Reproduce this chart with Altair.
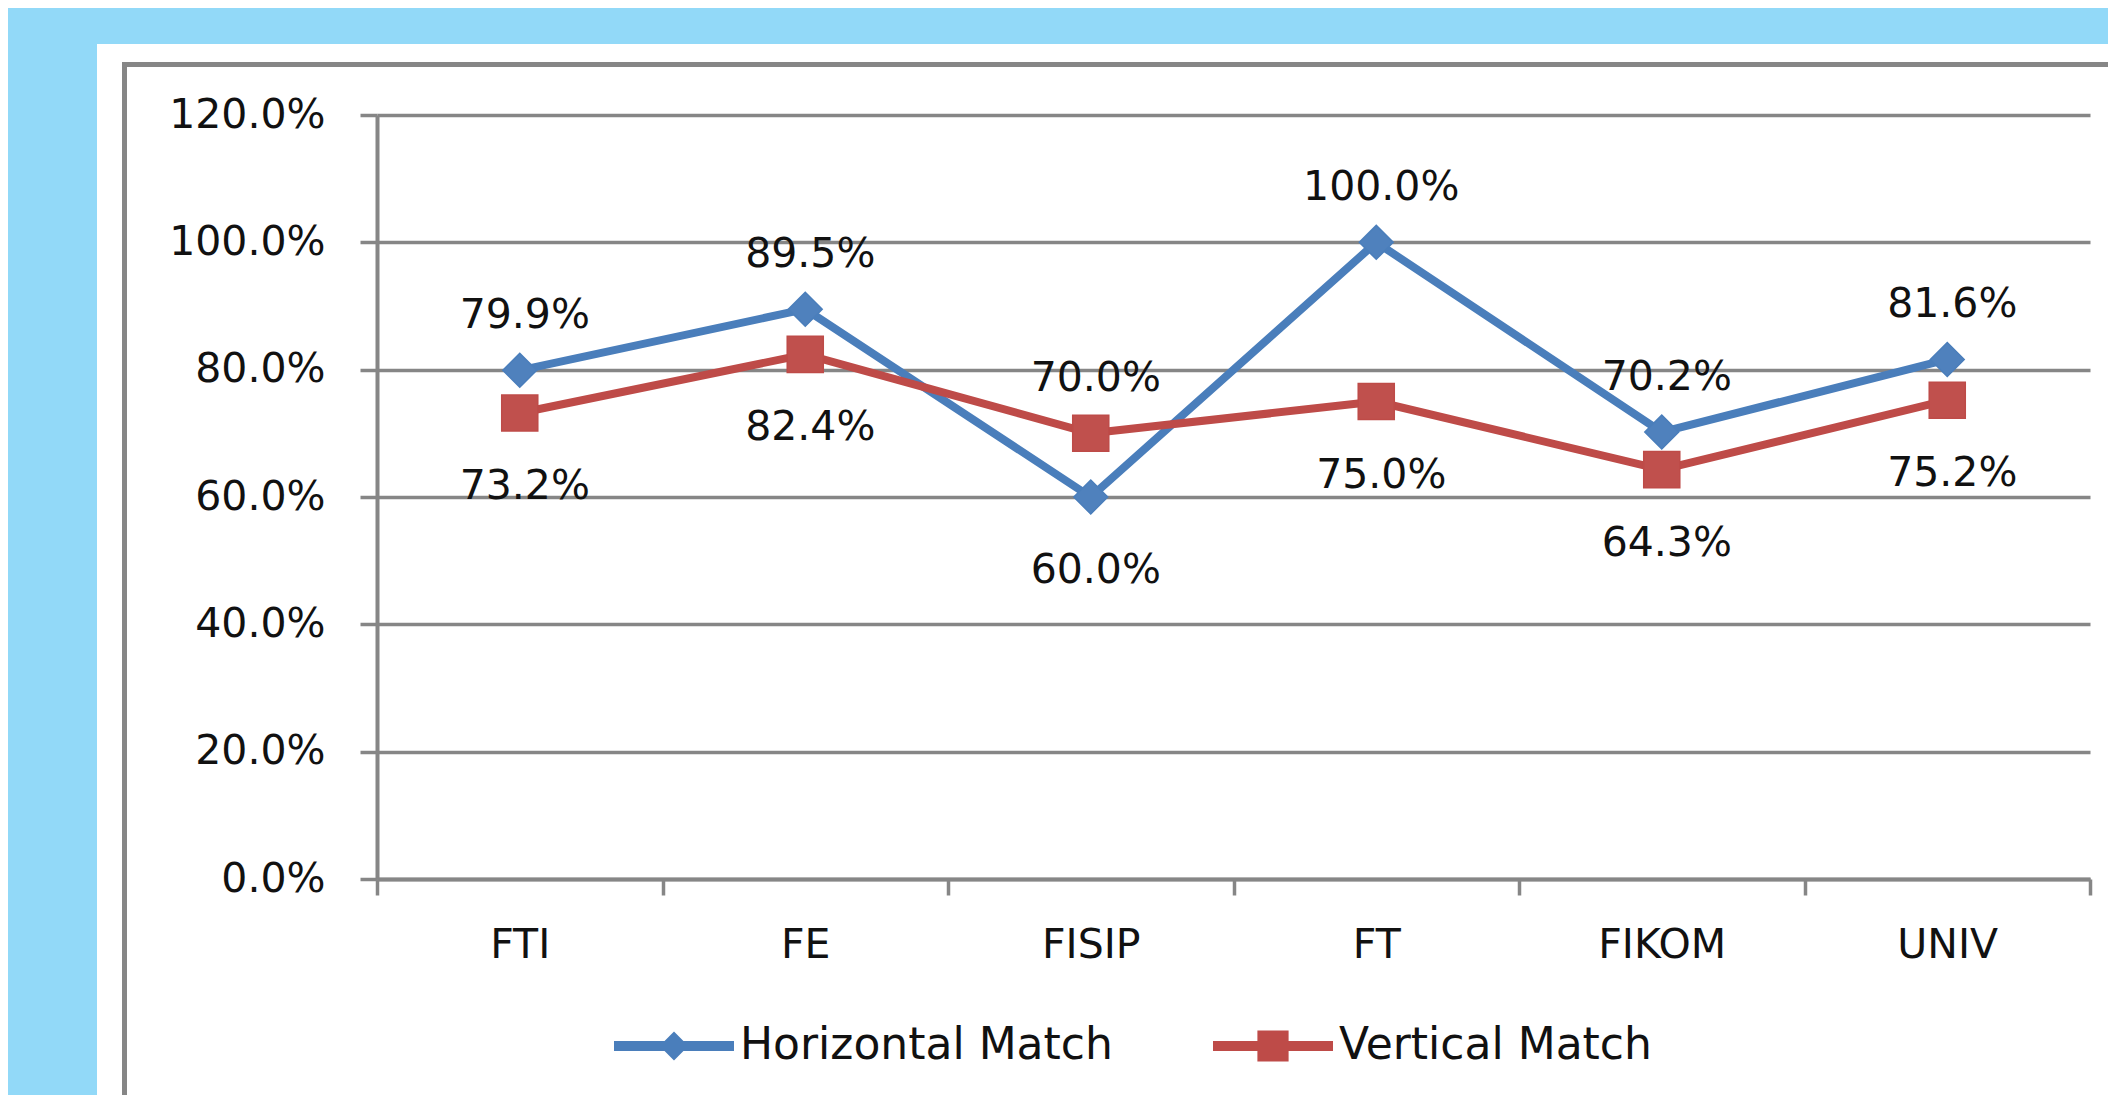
import altair as alt
import pandas as pd

categories = ["FTI", "FE", "FISIP", "FT", "FIKOM", "UNIV"]
series_names = ["Horizontal Match", "Vertical Match"]
horizontal_match = [0.799, 0.895, 0.600, 1.000, 0.702, 0.816]
vertical_match = [0.732, 0.824, 0.700, 0.750, 0.643, 0.752]
horizontal_label_side = ["above", "above", "below", "above", "above", "above"]
vertical_label_side = ["below", "below", "above", "below", "below", "below"]
y_ticks = [0.0, 0.2, 0.4, 0.6, 0.8, 1.0, 1.2]

line_colors = ["#4A7EBB", "#BE4B48"]
marker_colors = ["#4F81BD", "#C0504D"]
GRAY = "#868686"
SKY = "#92D9F8"
FONT = "DejaVu Sans"
TXT = "#111111"

rows = []
for s, vals, sides in [
    (series_names[0], horizontal_match, horizontal_label_side),
    (series_names[1], vertical_match, vertical_label_side),
]:
    for c, v, side in zip(categories, vals, sides):
        rows.append({"category": c, "series": s, "value": v, "side": side})
df = pd.DataFrame(rows)

x_axis = alt.Axis(title=None, tickBand="extent", grid=False, domainColor=GRAY, domainWidth=4,
                  tickColor=GRAY, tickWidth=3.5, tickSize=16, labelFontSize=41, labelFont=FONT,
                  labelColor=TXT, labelPadding=30, labelAngle=0, labelLimit=500)
y_axis = alt.Axis(values=y_ticks, format=".1%", title=None, grid=True, gridColor=GRAY, gridWidth=3.5,
                  domainColor=GRAY, domainWidth=4, tickColor=GRAY, tickWidth=3.5, tickSize=17,
                  labelFontSize=41, labelFont=FONT, labelColor=TXT, labelPadding=35, labelLimit=500)

X = alt.X("category:N", sort=categories,
          scale=alt.Scale(type="band", domain=categories, paddingInner=0, paddingOuter=0), axis=x_axis)
Y = alt.Y("value:Q", scale=alt.Scale(domain=[0, 1.2], nice=False, zero=True), axis=y_axis)

base = alt.Chart(df)
one = pd.DataFrame({"k": [0]})

# light-blue slide background strips (left and top), the rest of the page is white
sky_left = alt.Chart(one).mark_rect(color=SKY).encode(
    x=alt.value(-400), x2=alt.value(-280), y=alt.value(-200), y2=alt.value(1000))
sky_top = alt.Chart(one).mark_rect(color=SKY).encode(
    x=alt.value(-400), x2=alt.value(1800), y=alt.value(-200), y2=alt.value(-71))
frame = alt.Chart(one).mark_rect(filled=False, stroke=GRAY, strokeWidth=5).encode(
    x=alt.value(-252.5), x2=alt.value(1760), y=alt.value(-50.5), y2=alt.value(1000))

h = base.transform_filter(alt.datum.series == series_names[0])
v = base.transform_filter(alt.datum.series == series_names[1])

h_line = h.mark_line(color=line_colors[0], strokeWidth=8, strokeJoin="round").encode(x=X, y=Y)
h_pts = h.mark_point(shape="diamond", filled=True, size=1150, color=marker_colors[0],
                     stroke=line_colors[0], strokeWidth=1.5, opacity=1).encode(x=X, y=Y)
v_line = v.mark_line(color=line_colors[1], strokeWidth=8, strokeJoin="round").encode(x=X, y=Y)
v_pts = v.mark_point(shape="square", filled=True, size=1300, color=marker_colors[1],
                     stroke=line_colors[1], strokeWidth=1.5, opacity=1).encode(x=X, y=Y)

txt = alt.Text("value:Q", format=".1%")
lab_above = base.transform_filter(alt.datum.side == "above").mark_text(
    font=FONT, fontSize=41, color=TXT, baseline="middle", align="center", dx=5, dy=-54
).encode(x=X, y=Y, text=txt)
lab_below = base.transform_filter(alt.datum.side == "below").mark_text(
    font=FONT, fontSize=41, color=TXT, baseline="middle", align="center", dx=5, dy=74
).encode(x=X, y=Y, text=txt)

path_h = "M-1,-0.083H1V0.083H-1Z M0,-0.24L0.24,0L0,0.24L-0.24,0Z"
path_v = "M-1,-0.083H1V0.083H-1Z M-0.26,-0.26H0.26V0.26H-0.26Z"
legend_df = pd.DataFrame({"series": series_names})
leg = alt.Legend(title=None, orient="none", legendX=237, legendY=871, direction="horizontal",
                 symbolSize=14400, symbolStrokeWidth=0, symbolOpacity=1, labelFontSize=44,
                 labelFont=FONT, labelColor=TXT, labelLimit=1000, labelOffset=6,
                 columnPadding=100, padding=0)
legend_layer = alt.Chart(legend_df).mark_point(filled=True, opacity=1).encode(
    x=alt.value(-3000), y=alt.value(-3000),
    fill=alt.Fill("series:N", scale=alt.Scale(domain=series_names, range=line_colors), legend=leg),
    shape=alt.Shape("series:N", scale=alt.Scale(domain=series_names, range=[path_h, path_v]), legend=leg),
)

chart = alt.layer(
    sky_left, sky_top, frame, h_line, h_pts, v_line, v_pts, lab_above, lab_below, legend_layer
).properties(
    width=1713, height=764,
    autosize=alt.AutoSizeParams(type="none"),
    padding={"left": 369, "top": 107, "right": 18, "bottom": 216},
    background="white",
).configure_view(strokeWidth=0)

chart.save("out.html", embed_options={"renderer": "svg", "actions": False})
